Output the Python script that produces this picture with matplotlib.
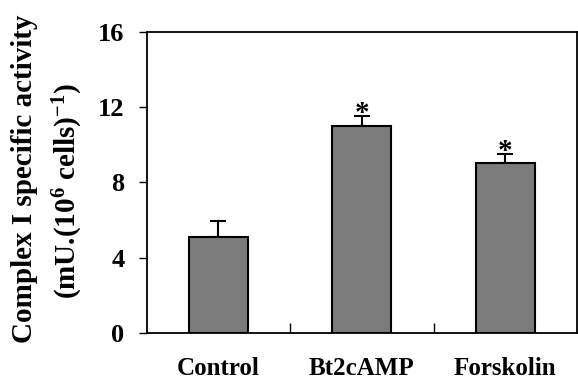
import numpy as np
import matplotlib.pyplot as plt

plt.rcParams['font.family'] = ['Liberation Serif', 'DejaVu Serif']
plt.rcParams['font.weight'] = 'bold'
plt.rcParams['mathtext.fontset'] = 'custom'
plt.rcParams['mathtext.rm'] = 'Liberation Serif:bold'
plt.rcParams['mathtext.it'] = 'Liberation Serif:bold'
plt.rcParams['mathtext.bf'] = 'Liberation Serif:bold'

# 数据
categories = ['Control', 'Bt2cAMP', 'Forskolin']
values = [5.1, 11.02, 9.02]
errors = [0.85, 0.5, 0.5]
marks = ['', '*', '*']

fig = plt.figure(figsize=(5.78, 3.79), dpi=100)
ax = fig.add_axes([0.254, 0.121, 0.744, 0.795])

x = np.arange(len(categories))
ax.bar(x, values, width=0.41, color='#7b7b7b', edgecolor='black', linewidth=1.5, zorder=2)
ax.errorbar(x, values, yerr=[np.zeros(len(errors)), errors], fmt='none',
            ecolor='black', elinewidth=1.5, capsize=6, capthick=1.5, zorder=1)

for xi, v, e, m in zip(x, values, errors, marks):
    if m:
        ax.text(xi, v + e - 0.25, m, ha='center', va='baseline', fontsize=21, fontweight='bold')

ax.set_xlim(-0.5, 2.5)
ax.set_ylim(0, 16)
ax.set_yticks([0, 4, 8, 12, 16])
ax.set_xticks(x)
ax.set_xticklabels(categories, fontsize=18, fontweight='bold')
ax.set_xticks([0.5, 1.5], minor=True)
ax.tick_params(axis='x', which='major', length=0, pad=17)
ax.tick_params(axis='x', which='minor', direction='in', length=7, width=1)
ax.tick_params(axis='y', direction='out', length=6, width=1, labelsize=19, pad=10)
for lbl in ax.get_yticklabels():
    lbl.set_fontweight('bold')
for s in ax.spines.values():
    s.set_linewidth(1.3)

# y轴标题（两行）
fig.text(25 / 578, 1 - 179 / 379, 'Complex I specific activity', rotation=90,
         ha='center', va='center', fontsize=21, fontweight='bold')
fig.text(68 / 578, 1 - 191 / 379, '(mU.(10$^6$ cells)$^{-1}$)', rotation=90,
         ha='center', va='center', fontsize=21, fontweight='bold')

fig.savefig('out.png', dpi=100)
